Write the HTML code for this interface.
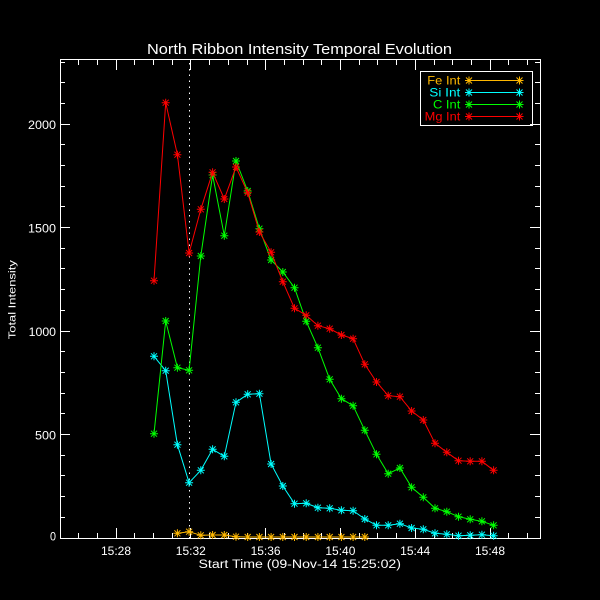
<!DOCTYPE html>
<html><head><meta charset="utf-8"><style>
html,body{margin:0;padding:0;background:#000;}
svg{display:block;}
text{font-family:"Liberation Sans",sans-serif;fill:#fff;}
</style></head><body>
<svg width="600" height="600" viewBox="0 0 600 600" xmlns="http://www.w3.org/2000/svg">
<rect x="0" y="0" width="600" height="600" fill="#000"/>
<defs>
<marker id="mo" markerUnits="userSpaceOnUse" markerWidth="10" markerHeight="10" refX="5" refY="5" viewBox="0 0 10 10" overflow="visible"><path d="M1,5H9M5,1V9M2,2L8,8M2,8L8,2" stroke="#FFB800" stroke-width="1" fill="none"/></marker>
<marker id="mc" markerUnits="userSpaceOnUse" markerWidth="10" markerHeight="10" refX="5" refY="5" viewBox="0 0 10 10" overflow="visible"><path d="M1,5H9M5,1V9M2,2L8,8M2,8L8,2" stroke="#00FFFF" stroke-width="1" fill="none"/></marker>
<marker id="mg" markerUnits="userSpaceOnUse" markerWidth="10" markerHeight="10" refX="5" refY="5" viewBox="0 0 10 10" overflow="visible"><path d="M1,5H9M5,1V9M2,2L8,8M2,8L8,2" stroke="#00FF00" stroke-width="1" fill="none"/></marker>
<marker id="mr" markerUnits="userSpaceOnUse" markerWidth="10" markerHeight="10" refX="5" refY="5" viewBox="0 0 10 10" overflow="visible"><path d="M1,5H9M5,1V9M2,2L8,8M2,8L8,2" stroke="#FF0000" stroke-width="1" fill="none"/></marker>
</defs>

<!-- title -->
<text x="147" y="54" font-size="14.5" textLength="305" lengthAdjust="spacingAndGlyphs">North Ribbon Intensity Temporal Evolution</text>

<!-- axes box -->
<rect x="60.5" y="59.5" width="480" height="479" fill="none" stroke="#fff" stroke-width="1" shape-rendering="crispEdges"/>

<!-- ticks -->
<path shape-rendering="crispEdges" stroke="#fff" stroke-width="1" fill="none" d="
M78.5,538v-5M97.5,538v-5M116.5,538v-10M134.5,538v-5M153.5,538v-5M172.5,538v-5M190.5,538v-10M209.5,538v-5M228.5,538v-5M247.5,538v-5M265.5,538v-10M284.5,538v-5M303.5,538v-5M321.5,538v-5M340.5,538v-10M359.5,538v-5M377.5,538v-5M396.5,538v-5M415.5,538v-10M434.5,538v-5M452.5,538v-5M471.5,538v-5M490.5,538v-10M508.5,538v-5M527.5,538v-5
M78.5,60v5M97.5,60v5M116.5,60v10M134.5,60v5M153.5,60v5M172.5,60v5M190.5,60v10M209.5,60v5M228.5,60v5M247.5,60v5M265.5,60v10M284.5,60v5M303.5,60v5M321.5,60v5M340.5,60v10M359.5,60v5M377.5,60v5M396.5,60v5M415.5,60v10M434.5,60v5M452.5,60v5M471.5,60v5M490.5,60v10M508.5,60v5M527.5,60v5
M60,517.5h5M60,496.5h5M60,475.5h5M60,455.5h5M60,434.5h10M60,413.5h5M60,393.5h5M60,372.5h5M60,351.5h5M60,331.5h10M60,310.5h5M60,289.5h5M60,268.5h5M60,248.5h5M60,227.5h10M60,206.5h5M60,186.5h5M60,165.5h5M60,144.5h5M60,124.5h10M60,103.5h5M60,82.5h5M60,62.5h5
M540,517.5h-5M540,496.5h-5M540,475.5h-5M540,455.5h-5M540,434.5h-10M540,413.5h-5M540,393.5h-5M540,372.5h-5M540,351.5h-5M540,331.5h-10M540,310.5h-5M540,289.5h-5M540,268.5h-5M540,248.5h-5M540,227.5h-10M540,206.5h-5M540,186.5h-5M540,165.5h-5M540,144.5h-5M540,124.5h-10M540,103.5h-5M540,82.5h-5M540,62.5h-5
"/>

<!-- y tick labels -->
<g font-size="11.5">
<text x="28" y="129" textLength="28" lengthAdjust="spacingAndGlyphs">2000</text>
<text x="28" y="232.5" textLength="28" lengthAdjust="spacingAndGlyphs">1500</text>
<text x="28.7" y="336" textLength="27.3" lengthAdjust="spacingAndGlyphs">1000</text>
<text x="35" y="439.5" textLength="21" lengthAdjust="spacingAndGlyphs">500</text>
<text x="50" y="540.5" textLength="6" lengthAdjust="spacingAndGlyphs">0</text>
</g>
<!-- x tick labels -->
<g font-size="11.5">
<text x="101" y="555" textLength="30" lengthAdjust="spacingAndGlyphs">15:28</text>
<text x="175.8" y="555" textLength="30" lengthAdjust="spacingAndGlyphs">15:32</text>
<text x="250.6" y="555" textLength="30" lengthAdjust="spacingAndGlyphs">15:36</text>
<text x="325.4" y="555" textLength="30" lengthAdjust="spacingAndGlyphs">15:40</text>
<text x="400.2" y="555" textLength="30" lengthAdjust="spacingAndGlyphs">15:44</text>
<text x="475" y="555" textLength="30" lengthAdjust="spacingAndGlyphs">15:48</text>
</g>
<text x="198.5" y="568" font-size="11.5" textLength="202.5" lengthAdjust="spacingAndGlyphs">Start Time (09-Nov-14 15:25:02)</text>
<text transform="translate(15.5,299.7) rotate(-90)" font-size="10" text-anchor="middle" textLength="79" lengthAdjust="spacingAndGlyphs">Total Intensity</text>

<!-- dotted vertical line -->
<line x1="189.5" y1="63" x2="189.5" y2="538" stroke="#fff" stroke-width="1" stroke-dasharray="1.5 4.35" shape-rendering="crispEdges"/>

<!-- Fe -->
<polyline fill="none" stroke="#FFB800" stroke-width="1" marker-start="url(#mo)" marker-mid="url(#mo)" marker-end="url(#mo)"
points="177.4,533.3 189.1,531.7 200.8,535.3 212.6,535 224.3,535 236.0,536.7 247.7,537 259.4,537 271.1,537 282.8,537 294.5,537 306.2,537 317.9,537 329.7,537 341.4,537 353.1,537 364.8,537"/>

<!-- Si -->
<polyline fill="none" stroke="#00FFFF" stroke-width="1" marker-start="url(#mc)" marker-mid="url(#mc)" marker-end="url(#mc)"
points="154.0,356.3 165.7,370.7 177.4,444.7 189.1,482.7 200.8,470.3 212.6,449.3 224.3,456.3 236.0,402.3 247.7,394.3 259.4,393.7 271.1,464 282.8,486 294.5,503.7 306.2,503.3 317.9,507.7 329.7,508.3 341.4,510.3 353.1,510.7 364.8,519 376.5,525.3 388.2,525.3 399.9,523.7 411.6,528 423.3,529.3 435.0,533.3 446.8,534.3 458.5,535.7 470.2,535.3 481.9,534.7 493.6,535.7"/>

<!-- C -->
<polyline fill="none" stroke="#00FF00" stroke-width="1" marker-start="url(#mg)" marker-mid="url(#mg)" marker-end="url(#mg)"
points="154.0,433.7 165.7,321 177.4,367.7 189.1,370.3 200.8,256 212.6,175 224.3,235.7 236.0,161 247.7,191 259.4,228.7 271.1,260 282.8,272 294.5,287.7 306.2,321.3 317.9,347.7 329.7,379.3 341.4,398.7 353.1,405.7 364.8,430.3 376.5,454.3 388.2,473.7 399.9,468 411.6,487.3 423.3,497.3 435.0,508.3 446.8,511.7 458.5,516.7 470.2,519.3 481.9,521.3 493.6,525.3"/>

<!-- Mg -->
<polyline fill="none" stroke="#FF0000" stroke-width="1" marker-start="url(#mr)" marker-mid="url(#mr)" marker-end="url(#mr)"
points="154.0,280.7 165.7,102.7 177.4,154.7 189.1,253 200.8,209.3 212.6,172.3 224.3,199 236.0,167 247.7,192.7 259.4,232 271.1,252.3 282.8,281.7 294.5,308.3 306.2,315.3 317.9,325.7 329.7,328.7 341.4,335 353.1,338.7 364.8,364.3 376.5,382 388.2,395.7 399.9,396.7 411.6,411 423.3,420 435.0,443.3 446.8,452.3 458.5,460.7 470.2,461.3 481.9,461.3 493.6,470.3"/>

<!-- legend -->
<rect x="420.5" y="71.5" width="112" height="54" fill="#000" stroke="#fff" stroke-width="1" shape-rendering="crispEdges"/>
<g font-size="12">
<text x="427.3" y="84.5" style="fill:#FFB800" textLength="33" lengthAdjust="spacingAndGlyphs">Fe Int</text>
<text x="429.3" y="96.5" style="fill:#00FFFF" textLength="31" lengthAdjust="spacingAndGlyphs">Si Int</text>
<text x="433" y="108.5" style="fill:#00FF00" textLength="27.3" lengthAdjust="spacingAndGlyphs">C Int</text>
<text x="424.7" y="120.5" style="fill:#FF0000" textLength="35.6" lengthAdjust="spacingAndGlyphs">Mg Int</text>
</g>
<polyline fill="none" stroke="#FFB800" stroke-width="1" marker-start="url(#mo)" marker-end="url(#mo)" points="469,80.5 519.5,80.5"/>
<polyline fill="none" stroke="#00FFFF" stroke-width="1" marker-start="url(#mc)" marker-end="url(#mc)" points="469,92.5 519.5,92.5"/>
<polyline fill="none" stroke="#00FF00" stroke-width="1" marker-start="url(#mg)" marker-end="url(#mg)" points="469,104.5 519.5,104.5"/>
<polyline fill="none" stroke="#FF0000" stroke-width="1" marker-start="url(#mr)" marker-end="url(#mr)" points="469,116.5 519.5,116.5"/>
<path d="M530,124.5h10" stroke="#fff" stroke-width="1" shape-rendering="crispEdges"/>
</svg>
</body></html>
